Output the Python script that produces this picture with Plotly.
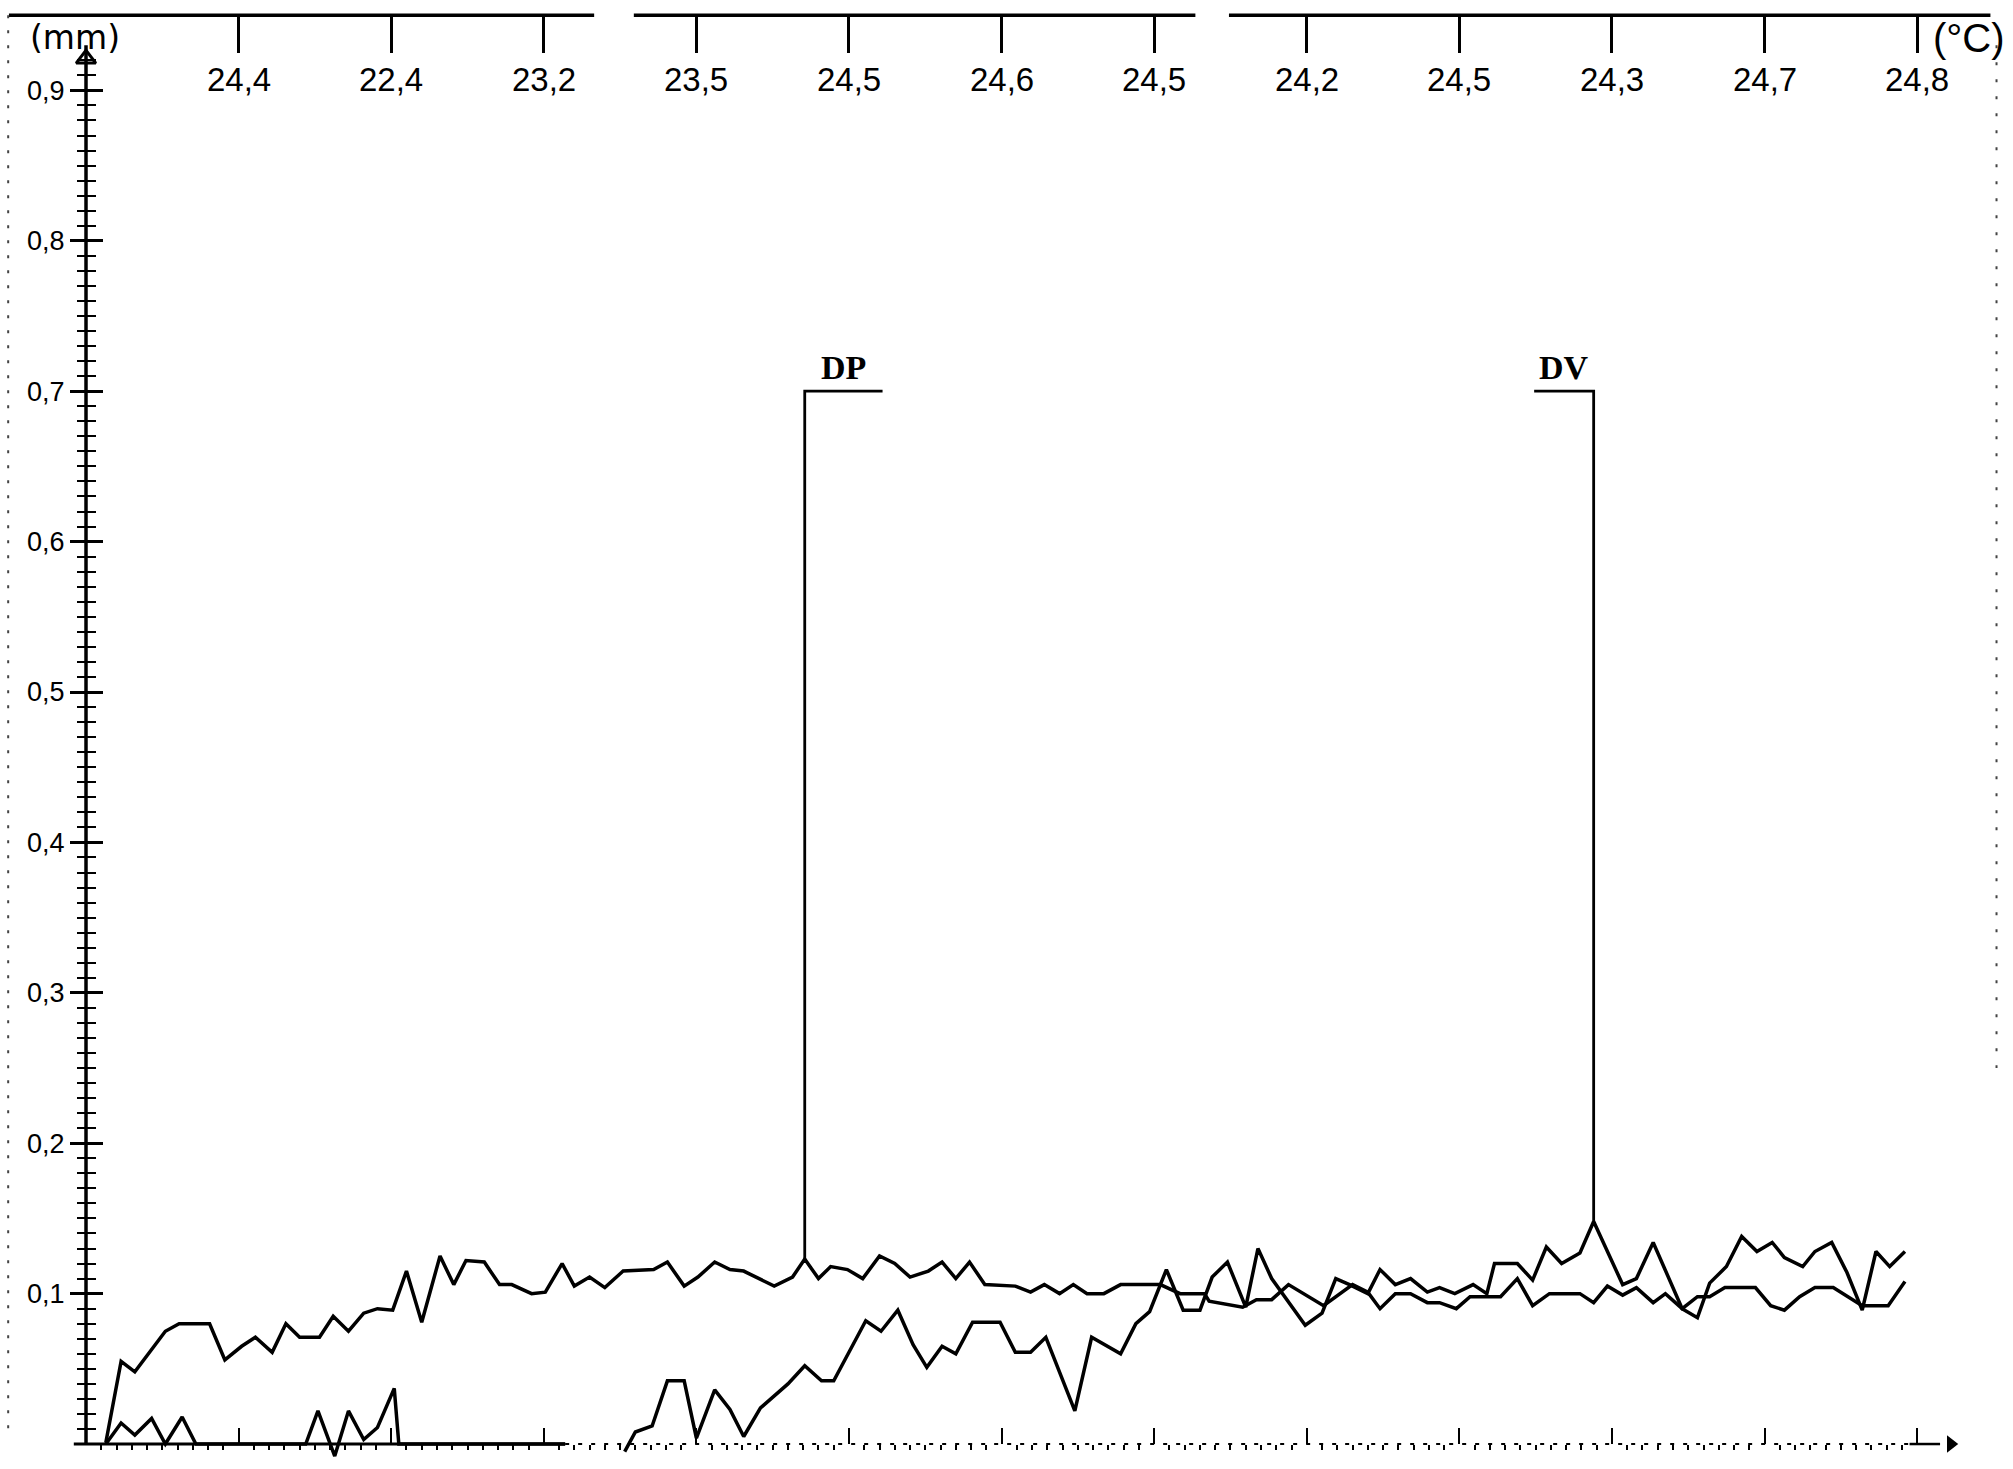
import plotly.graph_objects as go

# ---------------- data ----------------
temp_labels = ["24,4", "22,4", "23,2", "23,5", "24,5", "24,6",
               "24,5", "24,2", "24,5", "24,3", "24,7", "24,8"]
temp_pos = [1, 2, 3, 4, 5, 6, 7, 8, 9, 10, 11, 12]

y_label_vals = [0.1, 0.2, 0.3, 0.4, 0.5, 0.6, 0.7, 0.8, 0.9]
y_labels = ["0,1", "0,2", "0,3", "0,4", "0,5", "0,6", "0,7", "0,8", "0,9"]

upper_t = [0.13, 0.23, 0.32, 0.40, 0.52, 0.61, 0.81, 0.91, 1.02, 1.11,
           1.22, 1.31, 1.40, 1.53, 1.62, 1.72, 1.82, 1.91, 2.01, 2.10,
           2.20, 2.32, 2.41, 2.49, 2.61, 2.71, 2.79, 2.92, 3.01, 3.12,
           3.20, 3.30, 3.40, 3.52, 3.72, 3.81, 3.92, 4.01, 4.12, 4.22,
           4.31, 4.51, 4.63, 4.71, 4.80, 4.88, 4.99, 5.09, 5.20, 5.30,
           5.40, 5.52, 5.61, 5.70, 5.79, 5.89, 6.09, 6.19, 6.28, 6.38,
           6.47, 6.56, 6.67, 6.78, 7.04, 7.17, 7.33, 7.36, 7.58, 7.67,
           7.77, 7.88, 8.11, 8.30, 8.40, 8.48, 8.58, 8.68, 8.79, 8.87,
           8.98, 9.07, 9.27, 9.38, 9.48, 9.59, 9.79, 9.88, 9.97, 10.07,
           10.16, 10.27, 10.35, 10.46, 10.56, 10.64, 10.74, 10.94, 11.04, 11.13,
           11.23, 11.33, 11.45, 11.64, 11.81, 11.92]
upper_mm = [0.001, 0.055, 0.048, 0.059, 0.075, 0.080, 0.080, 0.056, 0.065, 0.071,
            0.061, 0.080, 0.071, 0.071, 0.085, 0.075, 0.087, 0.090, 0.089, 0.115,
            0.081, 0.125, 0.106, 0.122, 0.121, 0.106, 0.106, 0.100, 0.101, 0.120,
            0.105, 0.111, 0.104, 0.115, 0.116, 0.121, 0.105, 0.111, 0.121, 0.116,
            0.115, 0.105, 0.111, 0.123, 0.110, 0.118, 0.116, 0.110, 0.125, 0.120,
            0.111, 0.115, 0.121, 0.110, 0.121, 0.106, 0.105, 0.101, 0.106, 0.100,
            0.106, 0.100, 0.100, 0.106, 0.106, 0.100, 0.100, 0.095, 0.091, 0.096,
            0.096, 0.106, 0.092, 0.106, 0.101, 0.090, 0.100, 0.100, 0.094, 0.094,
            0.090, 0.098, 0.098, 0.110, 0.092, 0.100, 0.100, 0.094, 0.105, 0.099,
            0.104, 0.094, 0.100, 0.090, 0.098, 0.098, 0.104, 0.104, 0.092, 0.089,
            0.098, 0.104, 0.104, 0.092, 0.092, 0.108]

lower_t = [0.13, 0.23, 0.32, 0.43, 0.52, 0.63, 0.72, 1.44, 1.52, 1.63,
           1.72, 1.82, 1.91, 2.02, 2.05, 3.14, None,
           3.53, 3.60, 3.71, 3.81, 3.92, 4.00, 4.12, 4.22, 4.31, 4.42,
           4.60, 4.71, 4.82, 4.90, 5.11, 5.21, 5.32, 5.42, 5.51, 5.61,
           5.70, 5.81, 5.99, 6.09, 6.19, 6.29, 6.48, 6.59, 6.78, 6.88,
           6.97, 7.08, 7.19, 7.30, 7.38, 7.48, 7.60, 7.68, 7.77, 7.99,
           8.10, 8.19, 8.28, 8.40, 8.48, 8.58, 8.68, 8.79, 8.87, 8.97,
           9.09, 9.18, 9.23, 9.38, 9.48, 9.57, 9.67, 9.79, 9.88, 10.07,
           10.16, 10.27, 10.46, 10.56, 10.64, 10.75, 10.85, 10.95, 11.05, 11.13,
           11.25, 11.33, 11.44, 11.54, 11.64, 11.73, 11.82, 11.92]
lower_mm = [0.000, 0.014, 0.006, 0.017, 0.000, 0.018, 0.000, 0.000, 0.022, -0.008,
            0.022, 0.003, 0.011, 0.037, 0.000, 0.000, None,
            -0.005, 0.008, 0.012, 0.042, 0.042, 0.004, 0.036, 0.023, 0.005, 0.024,
            0.040, 0.052, 0.042, 0.042, 0.082, 0.075, 0.089, 0.066, 0.051, 0.065,
            0.060, 0.081, 0.081, 0.061, 0.061, 0.071, 0.022, 0.071, 0.060, 0.080,
            0.088, 0.116, 0.089, 0.089, 0.111, 0.121, 0.091, 0.130, 0.110, 0.079,
            0.087, 0.110, 0.106, 0.100, 0.116, 0.106, 0.110, 0.101, 0.104, 0.100,
            0.106, 0.100, 0.120, 0.120, 0.109, 0.131, 0.120, 0.127, 0.148, 0.106,
            0.110, 0.134, 0.090, 0.084, 0.107, 0.118, 0.138, 0.128, 0.134, 0.124,
            0.118, 0.128, 0.134, 0.114, 0.089, 0.128, 0.118, 0.128]

event_names = ["DP", "DV"]
event_t = [4.71, 9.88]
event_top = [0.70, 0.70]
event_base = [0.123, 0.148]
event_flag_t = [5.22, 9.49]

# ---------------- layout geometry ----------------
W, H = 2013, 1469
X_RANGE = [-0.5636, 12.628]
Y_RANGE = [-0.0166, 0.9601]
Y_AXIS_POS = 86 / W
X_AXIS_POS = (H - 1444) / H
TOP_AXIS_POS = 1 - 15 / H
TOP_Y = 0.950
LABEL_FONT = "Liberation Sans, Arial, sans-serif"

fig = go.Figure()

fig.add_trace(go.Scatter(x=upper_t, y=upper_mm, mode="lines",
                         line=dict(color="black", width=3.5), showlegend=False,
                         hoverinfo="skip"))
fig.add_trace(go.Scatter(x=lower_t, y=lower_mm, mode="lines", connectgaps=False,
                         line=dict(color="black", width=3.5), showlegend=False,
                         hoverinfo="skip", xaxis="x2", yaxis="y2"))

for name, t, top, base, flag in zip(event_names, event_t, event_top, event_base, event_flag_t):
    fig.add_trace(go.Scatter(x=[flag, t, t], y=[top, top, base], mode="lines",
                             line=dict(color="black", width=2.8), showlegend=False,
                             hoverinfo="skip"))
    fig.add_annotation(x=(flag + t) / 2, y=top + 0.016, text="<b>" + name + "</b>",
                       showarrow=False, xanchor="center", yanchor="middle",
                       font=dict(family="Liberation Serif, DejaVu Serif, serif",
                                 size=34, color="black"))

# axis arrows
fig.add_trace(go.Scatter(x=[0], y=[0.921], mode="markers",
                         marker=dict(symbol="triangle-up-open", size=17, color="black",
                                     line=dict(width=3, color="black")),
                         showlegend=False, hoverinfo="skip"))
fig.add_trace(go.Scatter(x=[12.22], y=[0], mode="markers",
                         marker=dict(symbol="triangle-right", size=15, color="black"),
                         showlegend=False, hoverinfo="skip"))

shapes = []
# y-axis line
shapes.append(dict(type="line", x0=0, x1=0, y0=0, y1=0.93, xref="x", yref="y",
                   line=dict(color="black", width=3.5)))
# baseline: solid part then dotted part
shapes.append(dict(type="line", x0=-0.08, x1=3.14, y0=0, y1=0, xref="x", yref="y",
                   line=dict(color="black", width=3)))
shapes.append(dict(type="line", x0=3.14, x1=11.95, y0=0, y1=0, xref="x", yref="y",
                   line=dict(color="black", width=2, dash="4px,9px")))
shapes.append(dict(type="line", x0=11.95, x1=12.15, y0=0, y1=0, xref="x", yref="y",
                   line=dict(color="black", width=2.5)))
# top border with breaks
for x0, x1 in [(-0.505, 3.33), (3.59, 7.27), (7.49, 12.48)]:
    shapes.append(dict(type="line", x0=x0, x1=x1, y0=TOP_Y, y1=TOP_Y, xref="x", yref="y",
                       line=dict(color="black", width=3.5)))
# faint dotted side borders
shapes.append(dict(type="line", x0=-0.51, x1=-0.51, y0=TOP_Y, y1=0.005, xref="x", yref="y",
                   line=dict(color="#444", width=2, dash="3px,12px")))
shapes.append(dict(type="line", x0=12.52, x1=12.52, y0=0.93, y1=0.25, xref="x", yref="y",
                   line=dict(color="#444", width=2, dash="3px,14px")))
fig.update_layout(shapes=shapes)

# top temperature labels
for t, lab in zip(temp_pos, temp_labels):
    fig.add_annotation(x=t, y=0.907, text=lab, showarrow=False, xanchor="center",
                       yanchor="middle", font=dict(family=LABEL_FONT, size=33, color="black"))

fig.add_annotation(x=-0.07, y=0.935, text="(mm)", showarrow=False, xanchor="center",
                   yanchor="middle", font=dict(family="DejaVu Sans, sans-serif", size=33,
                                               color="black"))
fig.add_annotation(x=12.34, y=0.935, text="(°C)", showarrow=False, xanchor="center",
                   yanchor="middle", font=dict(family=LABEL_FONT, size=40, color="black"))

minor_y = [round(i * 0.01, 2) for i in range(1, 93) if i % 10 != 0]
minor_x = [round(i * 0.1, 1) for i in range(1, 120) if i % 10 != 0]

fig.update_layout(
    width=W, height=H, autosize=False,
    margin=dict(l=0, r=0, t=0, b=0, pad=0),
    paper_bgcolor="white", plot_bgcolor="white",
    showlegend=False,
    xaxis=dict(range=X_RANGE, domain=[0, 1], anchor="free", position=X_AXIS_POS,
               showgrid=False, zeroline=False, showline=False,
               tickmode="array", tickvals=temp_pos, ticks="inside", ticklen=16,
               tickwidth=2, tickcolor="black", showticklabels=False,
               minor=dict(tickmode="array", tickvals=minor_x, ticks="outside",
                          ticklen=5, tickwidth=1.5, tickcolor="black")),
    xaxis2=dict(range=X_RANGE, overlaying="x", side="top", anchor="free",
                position=TOP_AXIS_POS, showgrid=False, zeroline=False, showline=False,
                tickmode="array", tickvals=temp_pos, ticks="inside", ticklen=37,
                tickwidth=2.5, tickcolor="black", showticklabels=False),
    yaxis=dict(range=Y_RANGE, domain=[0, 1], anchor="free", position=Y_AXIS_POS,
               side="left", showgrid=False, zeroline=False, showline=False,
               tickmode="array", tickvals=y_label_vals, ticktext=y_labels,
               ticks="outside", ticklen=16, tickwidth=2.5, tickcolor="black",
               tickfont=dict(family=LABEL_FONT, size=27, color="black"),
               minor=dict(tickmode="array", tickvals=minor_y, ticks="outside",
                          ticklen=9, tickwidth=2, tickcolor="black")),
    yaxis2=dict(range=Y_RANGE, overlaying="y", side="left", anchor="free",
                position=Y_AXIS_POS, showgrid=False, zeroline=False, showline=False,
                tickmode="array", tickvals=y_label_vals, ticks="inside", ticklen=16,
                tickwidth=2.5, tickcolor="black", showticklabels=False,
                minor=dict(tickmode="array", tickvals=minor_y, ticks="inside",
                           ticklen=9, tickwidth=2, tickcolor="black")),
)

fig.write_html("out.html")
